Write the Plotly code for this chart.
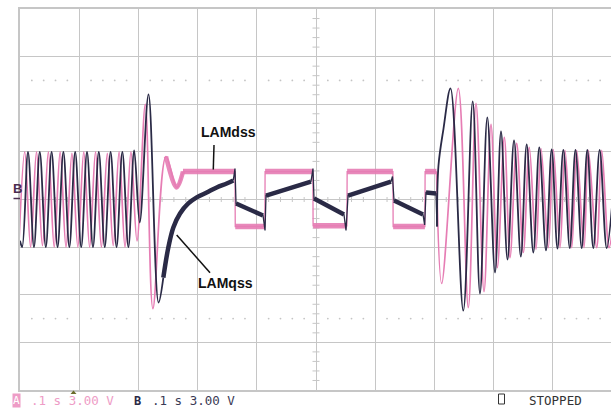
import plotly.graph_objects as go

# ---------------- data (time in ms, voltage in V; 100 ms/div, 3 V/div) ----------------
PINK = "#E67DB4"
DARK = "#2A2A46"

# LAMdss (channel A, pink) - oscillation before the event
dss_osc1_t = [-2.0, 8.0, 17.9, 27.9, 37.9, 47.9, 57.8, 67.8, 77.7, 87.7, 97.7, 107.7,
              117.6, 127.6, 137.5, 147.5, 157.4, 167.4, 177.4, 187.4, 197.6, 211.7,
              224.5, 246.6, 264.7, 275.3]
dss_osc1_v = [-3.0, 3.0, -3.0, 3.0, -2.9, 3.0, -3.0, 3.0, -3.0, 2.9, -3.0, 3.0,
              -3.0, 3.0, -3.0, 2.9, -2.9, 3.0, -3.0, 3.0, -2.6, 6.0,
              -6.87, 2.71, 0.76, 1.76]
# LAMdss plateaus (start ms, end ms, level V)
dss_plat_t0 = [275.3, 363.6, 414.0, 495.1, 552.6, 630.3, 684.3]
dss_plat_t1 = [363.2, 413.6, 494.7, 552.2, 629.9, 683.9, 703.4]
dss_plat_v = [1.76, -1.70, 1.76, -1.66, 1.76, -1.70, 1.76]
# LAMdss oscillation after the event
dss_osc2_t = [703.6, 712.3, 740.4, 757.3, 770.3, 783.8, 795.6, 806.3, 818.1, 827.7,
              839.0, 850.2, 860.3, 871.6, 880.1, 892.4, 900.9, 912.2, 920.6, 932.0,
              940.4, 952.7, 960.0, 974.2, 982.6, 995.0, 1002.0]
dss_osc2_v = [1.76, -5.29, 7.0, -6.81, 6.05, -5.80, 4.73, -4.29, 3.91, -3.66,
              3.53, -3.34, 3.28, -3.15, 3.21, -3.03, 3.15, -3.03, 3.09, -3.03,
              3.09, -3.03, 3.09, -3.03, 3.09, -3.03, -1.5]

# LAMqss (channel B, dark) - oscillation before the event
qss_osc1_t = [0.0, 3.7, 13.5, 23.6, 33.4, 43.6, 53.4, 63.5, 73.3, 83.4, 93.2, 103.4,
              113.2, 123.3, 133.1, 143.2, 153.0, 163.1, 172.9, 183.1, 192.9, 202.2,
              217.1, 234.0, 242.1]
qss_osc1_v = [-2.6, -3.0, 3.0, -3.0, 3.0, -3.0, 3.0, -3.0, 3.0, -3.0, 3.0, -3.0,
              3.0, -3.0, 3.0, -3.0, 3.0, -3.0, 3.0, -3.0, 3.09, -1.45,
              6.62, -6.49, -4.92]
# LAMqss recovery after the first step
qss_rec_t = [242.1, 250.5, 259.0, 270.3, 284.3, 298.5, 315.4, 332.3, 349.2, 360.3]
qss_rec_v = [-4.92, -3.03, -1.76, -0.88, -0.25, 0.13, 0.44, 0.76, 1.01, 1.20]
# LAMqss ramps (start ms, start V, end ms, end V)
qss_ramp_t0 = [364.9, 415.5, 496.6, 554.1, 631.8, 685.8]
qss_ramp_v0 = [-0.25, 0.25, 0.06, 0.25, -0.06, 0.44]
qss_ramp_t1 = [410.5, 491.5, 547.3, 626.7, 680.8, 702.7]
qss_ramp_v1 = [-1.01, 1.13, -0.95, 1.13, -0.95, 0.38]
# transition spikes between ramps (ms, V)
qss_spike_t = [363.2, 413.9, 494.9, 550.7, 629.2, 683.5, 704.4]
qss_spike_v = [1.95, -1.95, 1.95, -1.95, 1.45, -1.60, -1.70]
# LAMqss oscillation after the event
qss_osc2_t = [704.4, 706.9, 715.4, 727.2, 748.8, 764.7, 777.0, 789.4, 802.4, 812.5,
              823.5, 834.5, 846.0, 855.9, 867.1, 877.2, 888.5, 898.1, 907.9, 917.8,
              928.7, 938.3, 948.8, 958.3, 968.4, 979.2, 991.1, 1002.0]
qss_osc2_v = [-1.70, 2.14, 4.47, 7.0, -7.0, 6.18, -5.92, 5.17, -4.60, 4.29,
              -3.78, 3.72, -3.59, 3.47, -3.34, 3.28, -3.21, 3.15, -3.09, 3.12,
              -3.06, 3.12, -3.06, 3.12, -3.06, 3.12, -3.06, 0.5]

# ---------------- figure ----------------
W, H = 611, 410
ML, MR, MT, MB = 20, 0, 9, 20
PW, PH = W - ML - MR, H - MT - MB
MS_PER_PX = 100 / 59.2
X_MAX = PW * MS_PER_PX
V_PER_PX = 24 / PH

fig = go.Figure()


def px_paper(px, py):
    return (px - ML) / PW, (H - MB - py) / PH


# pink: thin connecting path through plateaus + thick noisy bands
pl_t, pl_v, th_t, th_v = [], [], [], []
for a, b, lv in zip(dss_plat_t0, dss_plat_t1, dss_plat_v):
    pl_t += [a, b]
    pl_v += [lv, lv]
    th_t += [a, b, None]
    th_v += [lv, lv, None]

fig.add_trace(go.Scatter(x=dss_osc1_t, y=dss_osc1_v, mode="lines",
                         line=dict(color=PINK, width=1.7, shape="spline", smoothing=1.0)))
fig.add_trace(go.Scatter(x=dss_osc1_t[-3:], y=dss_osc1_v[-3:], mode="lines", opacity=0.9,
                         line=dict(color=PINK, width=4.5, shape="spline")))
fig.add_trace(go.Scatter(x=pl_t, y=pl_v, mode="lines", line=dict(color=PINK, width=1.3)))
fig.add_trace(go.Scatter(x=th_t, y=th_v, mode="lines", opacity=0.9,
                         line=dict(color=PINK, width=5.5)))
fig.add_trace(go.Scatter(x=dss_osc2_t, y=dss_osc2_v, mode="lines",
                         line=dict(color=PINK, width=1.7, shape="spline", smoothing=1.0)))

# dark
fig.add_trace(go.Scatter(x=qss_osc1_t, y=qss_osc1_v, mode="lines",
                         line=dict(color=DARK, width=1.8, shape="spline", smoothing=1.0)))
fig.add_trace(go.Scatter(x=qss_rec_t, y=qss_rec_v, mode="lines",
                         line=dict(color=DARK, width=4.5, shape="spline")))
c_t, c_v, r_t, r_v = list(qss_rec_t[-1:]), list(qss_rec_v[-1:]), [], []
for i in range(len(qss_ramp_t0)):
    c_t += [qss_spike_t[i], qss_ramp_t0[i], qss_ramp_t1[i]]
    c_v += [qss_spike_v[i], qss_ramp_v0[i], qss_ramp_v1[i]]
    r_t += [qss_ramp_t0[i], qss_ramp_t1[i], None]
    r_v += [qss_ramp_v0[i], qss_ramp_v1[i], None]
c_t += [qss_spike_t[-1]]
c_v += [qss_spike_v[-1]]
fig.add_trace(go.Scatter(x=c_t, y=c_v, mode="lines", line=dict(color=DARK, width=1.3)))
fig.add_trace(go.Scatter(x=r_t, y=r_v, mode="lines", line=dict(color=DARK, width=4.5)))
fig.add_trace(go.Scatter(x=qss_osc2_t, y=qss_osc2_v, mode="lines",
                         line=dict(color=DARK, width=1.8, shape="spline", smoothing=1.0)))

# dotted rows at +/-2.5 div
dot_x, dot_y = [], []
for k in range(1, 50):
    if k % 5:
        for yy in (7.5, -7.5):
            dot_x.append(k * 20)
            dot_y.append(yy)
fig.add_trace(go.Scatter(x=dot_x, y=dot_y, mode="markers",
                         marker=dict(size=1.8, color="#C4C4C4", line=dict(width=0))))

shapes = []
GRID = "#C6C6C6"
# center cross minor ticks
for k in range(-20, 21):
    if k % 5:
        yv = k * 0.6
        shapes.append(dict(type="line", xref="x", yref="y", x0=500 - 3.5 * MS_PER_PX,
                           x1=500 + 3.5 * MS_PER_PX, y0=yv, y1=yv,
                           line=dict(color=GRID, width=1), layer="below"))
for k in range(1, 50):
    if k % 5:
        shapes.append(dict(type="line", xref="x", yref="y", x0=k * 20, x1=k * 20,
                           y0=-2.5 * V_PER_PX, y1=2.5 * V_PER_PX,
                           line=dict(color=GRID, width=1), layer="below"))

# B ground marker underline
bx0, by = px_paper(13.5, 198.5)
bx1, _ = px_paper(20, 198.5)
shapes.append(dict(type="line", xref="paper", yref="paper", x0=bx0, x1=bx1, y0=by, y1=by,
                   line=dict(color="#4B2D4F", width=1.5)))
# stopped box
sx0, sy0 = px_paper(498.5, 404)
sx1, sy1 = px_paper(504.5, 394)
shapes.append(dict(type="rect", xref="paper", yref="paper", x0=sx0, x1=sx1, y0=sy0, y1=sy1,
                   line=dict(color="#333333", width=1)))
# trigger position marker (small triangle under the frame)
tx0, ty0 = px_paper(70.5, 394)
tx1, ty1 = px_paper(76.5, 394)
txm, tym = px_paper(73.5, 390.5)
shapes.append(dict(type="path", xref="paper", yref="paper",
                   path=f"M {tx0} {ty0} L {tx1} {ty1} L {txm} {tym} Z",
                   fillcolor="#6B6B2A", line=dict(width=0)))

annotations = []
# trace labels with pointers
annotations.append(dict(x=353.0, y=4.25, xref="x", yref="y", text="<b>LAMdss</b>",
                        showarrow=False, font=dict(family="Liberation Sans", size=14, color="#111111")))
annotations.append(dict(x=347.0, y=-5.23, xref="x", yref="y", text="<b>LAMqss</b>",
                        showarrow=False, font=dict(family="Liberation Sans", size=14, color="#111111")))
shapes.append(dict(type="line", xref="x", yref="y", x0=327.7, y0=3.43, x1=326.5, y1=1.89,
                   line=dict(color="#111111", width=1.5)))
shapes.append(dict(type="line", xref="x", yref="y", x0=264.7, y0=-2.24, x1=321.0, y1=-4.61,
                   line=dict(color="#111111", width=1.5)))

MONO = "DejaVu Sans Mono"


def txt(px, py, s, color, size=12.5, anchor="left", family=MONO, bg=None):
    x, y = px_paper(px, py)
    d = dict(x=x, y=y, xref="paper", yref="paper", text=s, showarrow=False,
             xanchor=anchor, yanchor="middle", font=dict(family=family, size=size, color=color))
    if bg:
        d["bgcolor"] = bg
        d["borderpad"] = 0
    annotations.append(d)


txt(16.3, 400.5, "A", "white", size=11, anchor="center", bg="#EE9CC6")
txt(29, 400.5, ".1 s 3.00 V", "#EE9CC6")
txt(137.4, 400.5, "<b>B</b>", "#2A2A46", size=12, anchor="center")
txt(150, 400.5, ".1 s 3.00 V", "#3A3A55")
txt(527, 400.5, "STOPPED", "#333333")
txt(17, 188.5, "<b>B</b>", "#4B2D4F", size=13, anchor="center", family="Liberation Sans")

fig.update_layout(
    width=W, height=H, margin=dict(l=ML, r=MR, t=MT, b=MB, pad=0),
    paper_bgcolor="white", plot_bgcolor="white", showlegend=False,
    shapes=shapes, annotations=annotations,
    xaxis=dict(range=[0, X_MAX], dtick=100, tick0=0, showgrid=True, gridcolor=GRID, gridwidth=1,
               zeroline=False, showticklabels=False, ticks="", showline=True, mirror=True,
               linecolor=GRID, linewidth=2, fixedrange=True),
    yaxis=dict(range=[-12, 12], dtick=3, tick0=0, showgrid=True, gridcolor=GRID, gridwidth=1,
               zeroline=False, showticklabels=False, ticks="", showline=True, mirror=False,
               linecolor=GRID, linewidth=2, fixedrange=True),
)

fig.write_html("out.html")
